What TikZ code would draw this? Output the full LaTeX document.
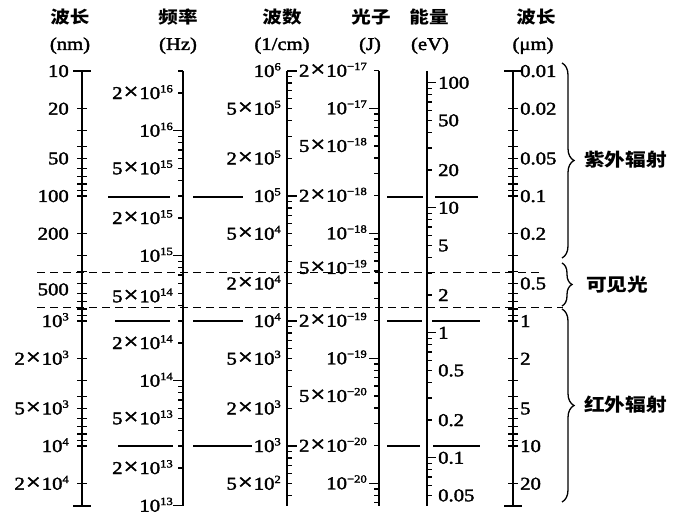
\documentclass[tikz,border=0pt]{standalone}
\usepackage{fontspec}
\setmainfont[FakeStretch=1.15,FakeBold=2]{Liberation Serif}
\newfontfamily\cjk[FakeStretch=1.15]{Noto Sans CJK SC}
\usetikzlibrary{decorations.pathreplacing}
\newcommand\ex[1]{\raisebox{0.8ex}{\fontsize{11}{11}\selectfont #1}}
\newcommand\X{\kern1pt{\fontsize{23}{23}\selectfont ×}\kern1pt}
\newcommand\axticks[7]{%
 \foreach \ee in {#3,...,#4}{\foreach \mm in {1,...,9}{%
  \pgfmathsetmacro\yy{#1+(#2)*(\ee+log10(\mm))}%
  \pgfmathtruncatemacro\ok{and(\yy>#5,\yy<#6)}%
  \ifnum\ok=1 #7\fi}}}
\begin{document}
\begin{tikzpicture}[x=1pt,y=-1pt,
 axisline/.style={line width=1.9pt},
 tick/.style={line width=1.4pt},
 lab/.style={font=\fontsize{18}{18}\selectfont, inner sep=0pt},
 hline/.style={line width=1.5pt},
 dline/.style={line width=1.8pt, dash pattern=on 8pt off 5pt},
 hdr/.style={font=\cjk\bfseries\fontsize{17}{17}\selectfont, inner sep=0pt},
 unit/.style={font=\fontsize{18}{18}\selectfont, inner sep=0pt, anchor=base},
 brc/.style={decorate, decoration={brace, amplitude=#1}, line width=1.3pt},
 side/.style={font=\cjk\bfseries\fontsize{18}{18}\selectfont, anchor=west, inner sep=0pt}]
\useasboundingbox (0,0) rectangle (673,516);

% headers
\node[hdr] (h1) at (70,17.5) {波长};
\node[unit] (u1) at (70,50) {(nm)};
\node[hdr] (h2) at (178,17.5) {频率};
\node[unit] (u2) at (178,50) {(Hz)};
\node[hdr] (h3) at (282,17.5) {波数};
\node[unit] (u3) at (282,50) {(1/cm)};
\node[hdr] (h4) at (371,17.5) {光子};
\node[unit] (u4) at (370,50) {(J)};
\node[hdr] (h5) at (429,17.5) {能量};
\node[unit] (u5) at (430,50) {(eV)};
\node[hdr] (h6) at (536,17.5) {波长};
\node[unit] (u6) at (533,50) {(μm)};

% axis 1: nm
\draw[axisline] (82,71) -- (82,506);
\draw[tick] (73,71) -- (91,71);
\draw[tick] (73,506) -- (91,506);
\axticks{-54}{125}{1}{4}{72}{505}{\draw[tick] (77,\yy) -- (87,\yy);}
\foreach \mm/\ee/\dy/\t [count=\i] in {1/1/0/10,2/1/0/20,5/1/0/50,1/2/0/100,2/2/0/200,5/2/6/500,1/3/0/10\ex{3},2/3/0/2\X10\ex{3},5/3/0/5\X10\ex{3},1/4/0/10\ex{4},2/4/0/2\X10\ex{4}}{
 \pgfmathsetmacro\yy{-54+125*(\ee+log10(\mm))+6+\dy}
 \node[lab,anchor=base east] (la\i) at (69,\yy) {\t};}

% axis 2: Hz
\draw[axisline] (183,71) -- (183,506);
\axticks{2130.64}{-125}{13}{16}{70}{507}{\ifnum\mm=1 \draw[tick] (173,\yy) -- (183,\yy);\else \draw[tick] (178,\yy) -- (183,\yy);\fi}
\foreach \mm/\ee/\dy/\t [count=\i] in {2/16/0/2\X10\ex{16},1/16/0/10\ex{16},5/15/0/5\X10\ex{15},2/15/0/2\X10\ex{15},1/15/0/10\ex{15},5/14/3/5\X10\ex{14},2/14/0/2\X10\ex{14},1/14/0/10\ex{14},5/13/0/5\X10\ex{13},2/13/0/2\X10\ex{13},1/13/0/10\ex{13}}{
 \pgfmathsetmacro\yy{2130.64-125*(\ee+log10(\mm))+6+\dy}
 \node[lab,anchor=base east] (lb\i) at (173,\yy) {\t};}

% axis 3: 1/cm
\draw[axisline] (287,71) -- (287,506);
\axticks{821}{-125}{2}{6}{70}{507}{\ifnum\mm=1 \draw[tick] (287,\yy) -- (297,\yy);\else \draw[tick] (287,\yy) -- (292,\yy);\fi}
\foreach \mm/\ee/\t [count=\i] in {1/6/10\ex{6},5/5/5\X10\ex{5},2/5/2\X10\ex{5},1/5/10\ex{5},5/4/5\X10\ex{4},2/4/2\X10\ex{4},1/4/10\ex{4},5/3/5\X10\ex{3},2/3/2\X10\ex{3},1/3/10\ex{3},5/2/5\X10\ex{2}}{
 \pgfmathsetmacro\yy{821-125*(\ee+log10(\mm))+6}
 \node[lab,anchor=base east] (lc\i) at (281,\yy) {\t};}

% axis 4: J
\draw[axisline] (379,71) -- (379,506);
\axticks{-2016.74}{-125}{-21}{-17}{70}{507}{\ifnum\mm=1 \draw[tick] (369,\yy) -- (379,\yy);\else \draw[tick] (374,\yy) -- (379,\yy);\fi}
\foreach \mm/\ee/\dy/\t [count=\i] in {2/-17/0/2\X10\ex{−17},1/-17/0/10\ex{−17},5/-18/0/5\X10\ex{−18},2/-18/0/2\X10\ex{−18},1/-18/0/10\ex{−18},5/-19/-3/5\X10\ex{−19},2/-19/0/2\X10\ex{−19},1/-19/0/10\ex{−19},5/-20/0/5\X10\ex{−20},2/-20/0/2\X10\ex{−20},1/-20/0/10\ex{−20}}{
 \pgfmathsetmacro\yy{-2016.74-125*(\ee+log10(\mm))+6+\dy}
 \node[lab,anchor=base east] (ld\i) at (367,\yy) {\t};}

% axis 5: eV
\draw[axisline] (427,71) -- (427,506);
\axticks{332.67}{-125}{-2}{2}{70}{507}{\ifnum\mm=1 \draw[tick] (427,\yy) -- (436,\yy);\else \draw[tick] (427,\yy) -- (432,\yy);\fi}
\foreach \mm/\ee/\t [count=\i] in {1/2/100,5/1/50,2/1/20,1/1/10,5/0/5,2/0/2,1/0/1,5/-1/0.5,2/-1/0.2,1/-1/0.1,5/-2/0.05}{
 \pgfmathsetmacro\yy{332.67-125*(\ee+log10(\mm))+6}
 \node[lab,anchor=base west] (le\i) at (438,\yy) {\t};}

% axis 6: um
\draw[axisline] (513,71) -- (513,506);
\draw[tick] (504,71) -- (522,71);
\draw[tick] (504,506) -- (522,506);
\axticks{321}{125}{-2}{1}{72}{505}{\draw[tick] (508,\yy) -- (518,\yy);}
\foreach \mm/\ee/\t [count=\i] in {1/-2/0.01,2/-2/0.02,5/-2/0.05,1/-1/0.1,2/-1/0.2,5/-1/0.5,1/0/1,2/0/2,5/0/5,1/1/10,2/1/20}{
 \pgfmathsetmacro\yy{321+125*(\ee+log10(\mm))+6}
 \node[lab,anchor=base west] (lf\i) at (520,\yy) {\t};}

% decade lines
\draw[hline] (108,197) -- (170,197);
\draw[hline] (193,197) -- (243,197);
\draw[hline] (387,197) -- (423,197);
\draw[hline] (435,197) -- (478,197);
\draw[hline] (115,321) -- (170,321);
\draw[hline] (193,321) -- (243,321);
\draw[hline] (387,321) -- (422,321);
\draw[hline] (432,321) -- (480,321);
\draw[hline] (118,446) -- (173,446);
\draw[hline] (193,446) -- (252,446);
\draw[hline] (387,446) -- (420,446);
\draw[hline] (433,446) -- (480,446);

% visible limits
\draw[dline] (37,272.5) -- (543,272.5);
\draw[dline] (37,307.5) -- (563,307.5);

% braces
\draw[brc=12pt] (562,63) -- (562,258);
\draw[brc=10pt] (562,263) -- (562,306);
\draw[brc=12pt] (562,309) -- (562,502);
\node[side] (uv) at (584,160) {紫外辐射};
\node[side] (vis) at (586,285) {可见光};
\node[side] (ir) at (584,405) {红外辐射};
\end{tikzpicture}
\end{document}
